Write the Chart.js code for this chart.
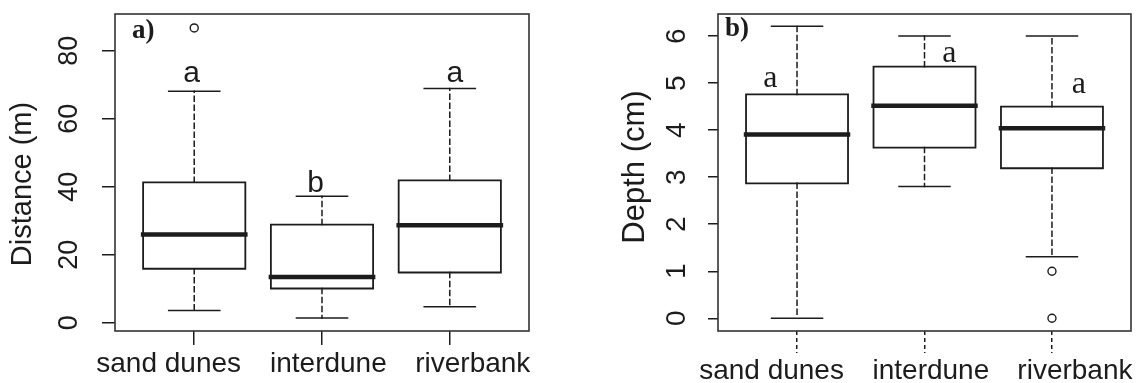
<!DOCTYPE html>
<html>
<head>
<meta charset="utf-8">
<script src="https://cdn.jsdelivr.net/npm/chart.js@4.4.1/dist/chart.umd.min.js"></script>
<style>
  html, body { margin: 0; padding: 0; background: #fff; }
  #wrap { position: relative; width: 1142px; height: 383px; overflow: hidden; }
  #wrap canvas { position: absolute; top: 0; }
</style>
</head>
<body>
<div id="wrap">
  <canvas id="chart-a" width="571" height="383" style="left:0"></canvas>
  <canvas id="chart-b" width="571" height="383" style="left:571px"></canvas>
</div>
<script>
const categories = ['sand dunes', 'interdune', 'riverbank'];

// a) distance (m)
const distMin = [3.6, 1.4, 4.7];
const distQ1 = [15.9, 10.1, 14.8];
const distMedian = [26.0, 13.5, 28.7];
const distQ3 = [41.3, 28.9, 41.9];
const distMax = [68.1, 37.2, 68.9];
const distOutliers = [[86.7], [], []];
const distLetters = ['a', 'b', 'a'];
const distTicks = [0, 20, 40, 60, 80];

// b) depth (cm)
const depthMin = [0, 2.8, 1.31];
const depthQ1 = [2.87, 3.63, 3.19];
const depthMedian = [3.91, 4.52, 4.04];
const depthQ3 = [4.76, 5.35, 4.5];
const depthMax = [6.21, 6.0, 6.0];
const depthOutliers = [[], [], [1.0, 0.0]];
const depthLetters = ['a', 'a', 'a'];
const depthTicks = [0, 1, 2, 3, 4, 5, 6];

const ink = '#1c1c1c';
const sans = 'Liberation Sans, Arial, sans-serif';
const serif = 'Liberation Serif, Times New Roman, serif';
const BOX_HALF = 0.4;
const CAP_HALF = 0.2;
// the category labels sit a bit off their ticks in the original
const labelAt = [0.8, 2.05, 3.18];

const gap = () => ({ x: null, y: null });

function boxDatasets(s) {
    const boxes = [], medians = [], whiskers = [], caps = [], outliers = [];
    s.median.forEach((m, i) => {
        const x = i + 1;
        const lo = s.q1[i], hi = s.q3[i];
        boxes.push({ x: x - BOX_HALF, y: lo }, { x: x + BOX_HALF, y: lo }, { x: x + BOX_HALF, y: hi },
            { x: x - BOX_HALF, y: hi }, { x: x - BOX_HALF, y: lo }, gap());
        medians.push({ x: x - BOX_HALF, y: m }, { x: x + BOX_HALF, y: m }, gap());
        whiskers.push({ x, y: hi }, { x, y: s.max[i] }, gap(), { x, y: lo }, { x, y: s.min[i] }, gap());
        caps.push({ x: x - CAP_HALF, y: s.max[i] }, { x: x + CAP_HALF, y: s.max[i] }, gap(),
            { x: x - CAP_HALF, y: s.min[i] }, { x: x + CAP_HALF, y: s.min[i] }, gap());
        s.outliers[i].forEach(v => outliers.push({ x, y: v }));
    });
    const line = (data, width, dash) => ({
        data, showLine: true, spanGaps: false, pointRadius: 0, pointHoverRadius: 0,
        borderColor: ink, borderWidth: width, borderDash: dash || [], borderCapStyle: 'square',
        borderJoinStyle: 'miter', tension: 0
    });
    return [
        line(whiskers, 1.5, [5, 4]),
        line(caps, 1.5),
        line(boxes, 1.8),
        line(medians, 4.5),
        { data: outliers, showLine: false, pointRadius: 4, pointHoverRadius: 4, pointBackgroundColor: '#fff',
          pointBorderColor: ink, pointBorderWidth: 1.4 }
    ];
}

const rDecor = {
    id: 'rDecor',
    afterDraw(chart, args, o) {
        const { ctx, chartArea: a, scales } = chart;
        ctx.save();
        ctx.strokeStyle = '#333';
        ctx.lineWidth = 1.6;
        ctx.strokeRect(a.left, a.top, a.right - a.left, a.bottom - a.top);

        ctx.fillStyle = ink;
        ctx.textAlign = 'left';
        ctx.textBaseline = 'alphabetic';
        ctx.font = 'bold 27px ' + serif;
        ctx.fillText(o.tag, a.left + o.tagDx, a.top + o.tagDy);

        ctx.textAlign = 'center';
        ctx.font = o.letterFont;
        o.letters.forEach((t, i) => {
            ctx.fillText(t, scales.x.getPixelForValue(o.letterX[i]), scales.y.getPixelForValue(o.letterY[i]));
        });

        ctx.save();
        ctx.font = o.titleSize + 'px ' + sans;
        ctx.textBaseline = 'middle';
        ctx.translate(o.titleX, o.titleY);
        ctx.rotate(-Math.PI / 2);
        ctx.fillText(o.title, 0, 0);
        ctx.restore();
        ctx.restore();
    }
};

function makeChart(id, p) {
    return new Chart(document.getElementById(id), {
        type: 'scatter',
        data: { datasets: boxDatasets(p.stats) },
        options: {
            responsive: false,
            animation: false,
            events: [],
            layout: { padding: { top: 14, right: p.padRight, left: 0, bottom: 0 } },
            plugins: {
                legend: { display: false },
                tooltip: { enabled: false },
                rDecor: p.decor
            },
            scales: {
                x: {
                    type: 'linear', min: 0.38, max: 3.62, weight: 0,
                    afterBuildTicks: s => { s.ticks = categories.map((c, i) => ({ value: i + 1 })); },
                    afterFit: s => { s.height = p.xTickLen; s.paddingLeft = 0; s.paddingRight = 0; },
                    border: { display: false },
                    grid: { drawOnChartArea: false, tickLength: p.xTickLen, color: ink, lineWidth: 1.5,
                            tickBorderDash: p.xTickDash },
                    ticks: { display: false }
                },
                xl: {
                    type: 'linear', position: 'bottom', min: 0.38, max: 3.62, weight: 1,
                    afterBuildTicks: s => { s.ticks = labelAt.map(v => ({ value: v })); },
                    afterFit: s => { s.height = 52 - p.xTickLen; s.paddingLeft = 0; s.paddingRight = 0; },
                    border: { display: false },
                    grid: { display: false },
                    ticks: { autoSkip: false, minRotation: 0, maxRotation: 0, padding: p.xLabelPad, color: ink,
                             font: { family: sans, size: 28 }, callback: (v, i) => categories[i] }
                },
                y: {
                    type: 'linear', min: p.yMin, max: p.yMax,
                    afterBuildTicks: s => { s.ticks = p.yTicks.map(v => ({ value: v })); },
                    afterFit: s => { s.width = p.yAxisWidth; s.paddingTop = 0; s.paddingBottom = 0; },
                    border: { display: false },
                    grid: { drawOnChartArea: false, tickLength: p.yTickLen, color: ink, lineWidth: 1.5 },
                    ticks: { minRotation: 90, maxRotation: 90, crossAlign: 'center', padding: p.yLabelPad,
                             color: ink, font: { family: sans, size: p.yLabelSize } }
                }
            }
        },
        plugins: [rDecor]
    });
}

makeChart('chart-a', {
    stats: { min: distMin, q1: distQ1, median: distMedian, q3: distQ3, max: distMax, outliers: distOutliers },
    yMin: -2.4, yMax: 90.8, yTicks: distTicks,
    padRight: 42, yAxisWidth: 115, yTickLen: 13, yLabelPad: 17, yLabelSize: 27,
    xTickLen: 14, xTickDash: [], xLabelPad: -6,
    decor: {
        tag: 'a)', tagDx: 17, tagDy: 24,
        letters: distLetters, letterX: [0.98, 1.95, 3.04], letterY: [70.8, 38.6, 70.9],
        letterFont: '30px ' + sans,
        title: 'Distance (m)', titleSize: 29, titleX: 23, titleY: 184
    }
});

makeChart('chart-b', {
    stats: { min: depthMin, q1: depthQ1, median: depthMedian, q3: depthQ3, max: depthMax, outliers: depthOutliers },
    yMin: -0.27, yMax: 6.47, yTicks: depthTicks,
    padRight: 11, yAxisWidth: 147, yTickLen: 10, yLabelPad: 23, yLabelSize: 28,
    xTickLen: 22, xTickDash: [4, 3], xLabelPad: -7,
    decor: {
        tag: 'b)', tagDx: 7, tagDy: 22,
        letters: depthLetters, letterX: [0.79, 2.195, 3.21], letterY: [4.92, 5.45, 4.79],
        letterFont: '32px ' + serif,
        title: 'Depth (cm)', titleSize: 31, titleX: 64, titleY: 167
    }
});
</script>
</body>
</html>
